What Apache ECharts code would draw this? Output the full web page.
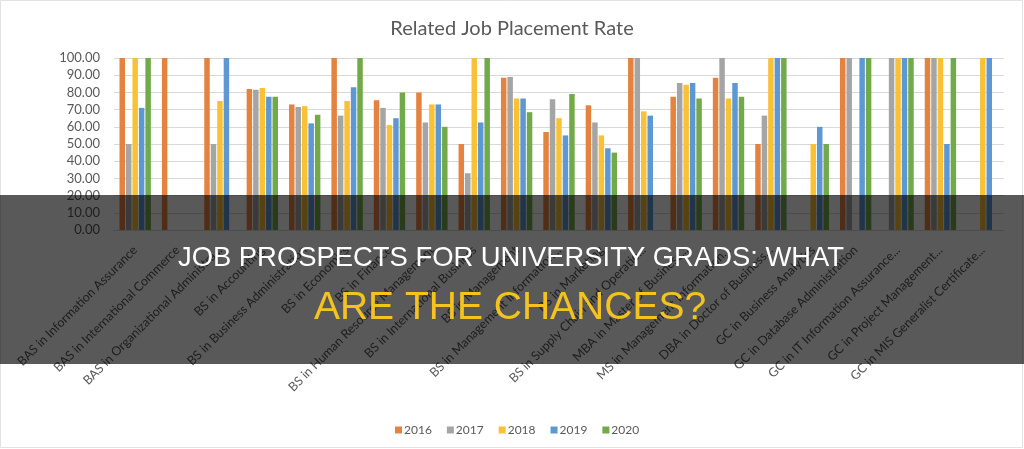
<!DOCTYPE html>
<html>
<head>
<meta charset="utf-8">
<script src="https://cdn.jsdelivr.net/npm/echarts@6/dist/echarts.min.js"></script>
<style>
    html, body { margin: 0; padding: 0; background: #fff; }
    #chart { width: 1024px; height: 449px; }
</style>
</head>
<body>
<div id="chart"></div>
<script>
var programs = [
    'BAS in Information Assurance',
    'BAS in International Commerce',
    'BAS in Organizational Administra...',
    'BS in Accounting',
    'BS in Business Administration',
    'BS in Economics',
    'BS in Finance',
    'BS in Human Resource Management',
    'BS in International Business',
    'BS in Management',
    'BS in Management Information...',
    'BS in Marketing',
    'BS in Supply Chain and Operatio...',
    'MBA in Master of Business...',
    'MS in Management Information...',
    'DBA in Doctor of Business...',
    'GC in Business Analytics',
    'GC in Database Administration',
    'GC in IT Information Assurance...',
    'GC in Project Management...',
    'GC in MIS Generalist Certificate...'
];
var years = ['2016', '2017', '2018', '2019', '2020'];
var colors = ['#E4823F', '#A5A5A5', '#F8C136', '#5E98D4', '#72AA4A'];

// null = no bar for that year
var rate2016 = [100, 100, 100, 82, 73, 100, 75.5, 80, 50, 88.5, 57, 72.5, 100, 77.5, 88.5, 50, null, 100, null, 100, null];
var rate2017 = [50, null, 50, 81.5, 71.5, 66.5, 71, 62.5, 33, 89, 76, 62.5, 100, 85.5, 100, 66.5, null, 100, 100, 100, null];
var rate2018 = [100, null, 75, 82.5, 72, 75, 61, 73, 100, 76.5, 65, 55, 69, 84.5, 76.5, 100, 50, null, 100, 100, 100];
var rate2019 = [71, null, 100, 77.5, 62, 83, 65, 73, 62.5, 76.5, 55, 47.5, 66.5, 85.5, 85.5, 100, 60, 100, 100, 50, 100];
var rate2020 = [100, null, null, 77.5, 67, 100, 80, 60, 100, 68.5, 79, 45, null, 76.5, 77.5, 100, 50, 100, 100, 100, null];
var rates = [rate2016, rate2017, rate2018, rate2019, rate2020];

var headline1 = 'JOB PROSPECTS FOR UNIVERSITY GRADS: WHAT';
var headline2 = 'ARE THE CHANCES?';

var chart = echarts.init(document.getElementById('chart'));

var series = years.map(function (y, i) {
    return {
        name: y,
        type: 'bar',
        data: rates[i],
        barGap: '18%',
        barCategoryGap: '26%',
        itemStyle: { color: colors[i] }
    };
});

var option = {
    animation: false,
    color: colors,
    textStyle: { fontFamily: 'Lato' },
    title: {
        text: 'Related Job Placement Rate',
        left: 'center',
        top: 14,
        textStyle: { fontSize: 20, fontWeight: 'normal', color: '#595959', fontFamily: 'Lato' }
    },
    legend: {
        data: years,
        left: 390,
        top: 419,
        itemWidth: 7,
        itemHeight: 7,
        itemGap: 15,
        icon: 'rect',
        textStyle: { fontSize: 12, color: '#595959', fontFamily: 'Lato', padding: [0, 0, 0, -3] }
    },
    grid: {
        left: 114,
        right: 20,
        top: 58,
        bottom: 219
    },
    xAxis: [{
        type: 'category',
        data: programs,
        axisLine: { lineStyle: { color: '#D9D9D9' } },
        axisTick: { show: false },
        axisLabel: {
            interval: 0,
            rotate: 45,
            margin: 18,
            fontSize: 12.5,
            color: '#595959',
            fontFamily: 'Lato'
        }
    }],
    yAxis: [{
        type: 'value',
        min: 0,
        max: 100,
        interval: 10,
        axisLine: { show: false },
        axisTick: { show: false },
        splitLine: { lineStyle: { color: '#D9D9D9' } },
        axisLabel: {
            margin: 14,
            fontSize: 13,
            color: '#595959',
            fontFamily: 'Lato',
            formatter: function (v) { return v.toFixed(2); }
        }
    }],
    series: series,
    graphic: [
        {
            type: 'rect',
            z: 1,
            shape: { x: 0.5, y: 0.5, width: 1022, height: 447 },
            style: { fill: 'none', stroke: '#E3E3E3', lineWidth: 1 }
        },
        {
            type: 'rect',
            z: 100,
            shape: { x: 0, y: 195, width: 1024, height: 169 },
            style: { fill: 'rgba(0,0,0,0.65)' }
        },
        {
            type: 'text',
            z: 101,
            x: 511,
            y: 258,
            style: {
                text: headline1,
                fill: '#FFFFFF',
                fontFamily: 'Liberation Sans',
                fontSize: 27.4,
                align: 'center',
                verticalAlign: 'middle'
            }
        },
        {
            type: 'text',
            z: 101,
            x: 510,
            y: 308,
            style: {
                text: headline2,
                fill: '#F5C31E',
                fontFamily: 'Liberation Sans',
                fontSize: 39,
                align: 'center',
                verticalAlign: 'middle'
            }
        }
    ]
};
chart.setOption(option);
</script>
</body>
</html>
